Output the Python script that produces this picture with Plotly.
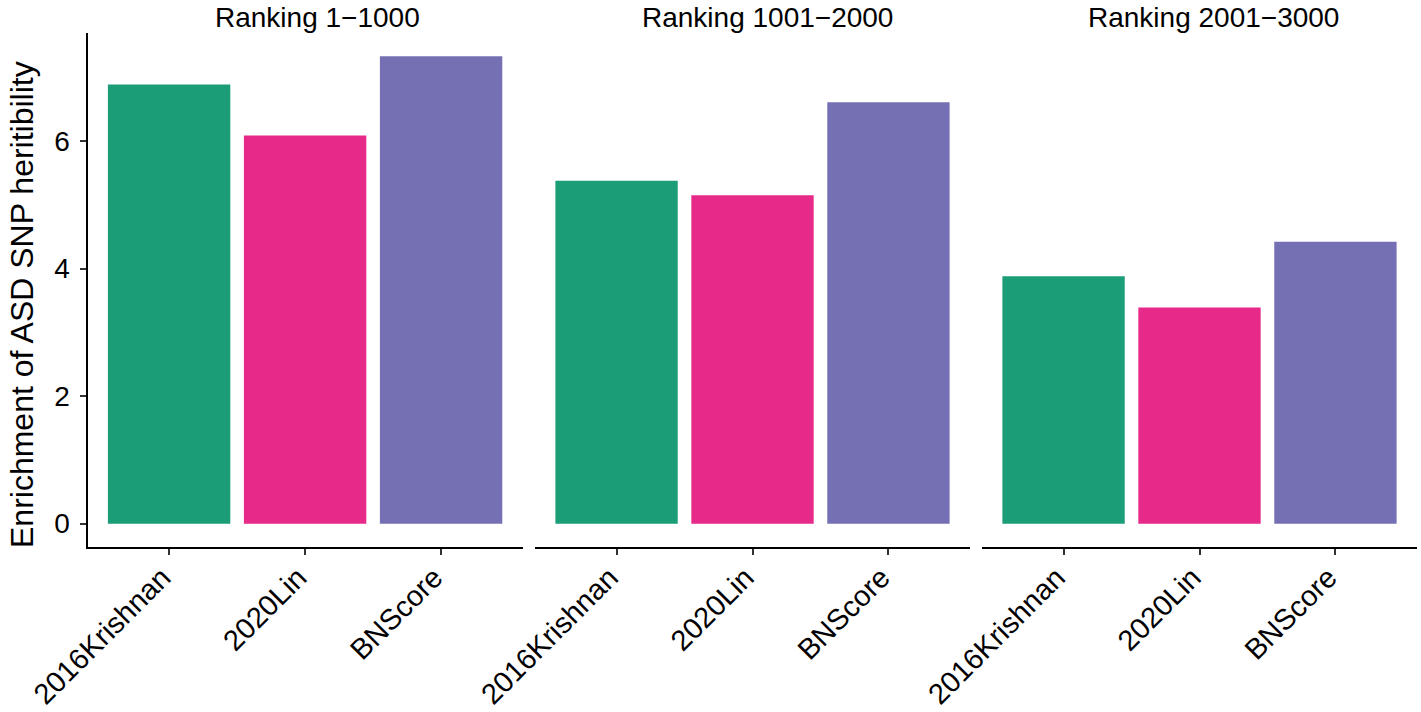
import plotly.graph_objects as go

W, H = 1421, 712

methods = ['2016Krishnan', '2020Lin', 'BNScore']
panels = ['Ranking 1\u22121000', 'Ranking 1001\u22122000', 'Ranking 2001\u22123000']
enrich_1_1000 = [6.89, 6.09, 7.33]
enrich_1001_2000 = [5.38, 5.15, 6.61]
enrich_2001_3000 = [3.88, 3.39, 4.42]
colors = ['#1b9e77', '#e7298a', '#7570b3']
y_ticks = [0, 2, 4, 6]

values = [enrich_1_1000, enrich_1001_2000, enrich_2001_3000]

# panel extents in pixels (x) -> paper fractions
panel_px = [(87.5, 522.7), (535, 970), (982, 1417)]
title_px = [317, 767, 1213]
y_dom = [1 - 547 / H, 1 - 33 / H]

ymax = max(max(v) for v in values)
yrange = [-0.05 * ymax, ymax * 1.05]

fnt = 'Liberation Sans, Arial, Helvetica, sans-serif'

fig = go.Figure()
for i, vals in enumerate(values):
    xa = 'x' if i == 0 else 'x' + str(i + 1)
    fig.add_trace(go.Bar(x=methods, y=vals, marker=dict(color=colors, line=dict(width=0)),
                         width=0.9, xaxis=xa, yaxis='y', showlegend=False))

axis_common = dict(showline=True, linecolor='black', linewidth=2, ticks='outside',
                   ticklen=6, tickwidth=2, tickcolor='#333333', showgrid=False,
                   zeroline=False)

layout = dict(
    width=W, height=H, plot_bgcolor='white', paper_bgcolor='white',
    margin=dict(l=0, r=0, t=0, b=0), bargap=0.1, showlegend=False,
    yaxis=dict(domain=y_dom, range=yrange, tickvals=y_ticks, anchor='x',
               ticklabelstandoff=4, automargin=False,
               tickfont=dict(family=fnt, size=28, color='black'), **axis_common),
)
for i, (a, b) in enumerate(panel_px):
    key = 'xaxis' if i == 0 else 'xaxis' + str(i + 1)
    layout[key] = dict(domain=[a / W, b / W], range=[-0.6, 2.6], anchor='y',
                       type='category', tickangle=-45, automargin=False,
                       ticklabelstandoff=-6, ticklabelshift=-7,
                       tickfont=dict(family=fnt, size=29, color='black'), **axis_common)
fig.update_layout(**layout)

annotations = []
for name, cx in zip(panels, title_px):
    annotations.append(dict(text=name, x=cx / W, y=1, xref='paper', yref='paper',
                            xanchor='center', yanchor='top', showarrow=False,
                            font=dict(family=fnt, size=28, color='black')))
annotations.append(dict(text='Enrichment of ASD SNP heritibility', x=2 / W, y=1 - 305 / H,
                        xref='paper', yref='paper', xanchor='left', yanchor='middle',
                        textangle=-90, showarrow=False,
                        font=dict(family=fnt, size=32, color='black')))
fig.update_layout(annotations=annotations)

# drop the browser's default 8px body margin so the figure sits at the page origin
fig.write_html("out.html", config={'displayModeBar': False},
               post_script="document.body.style.margin='0px';")
